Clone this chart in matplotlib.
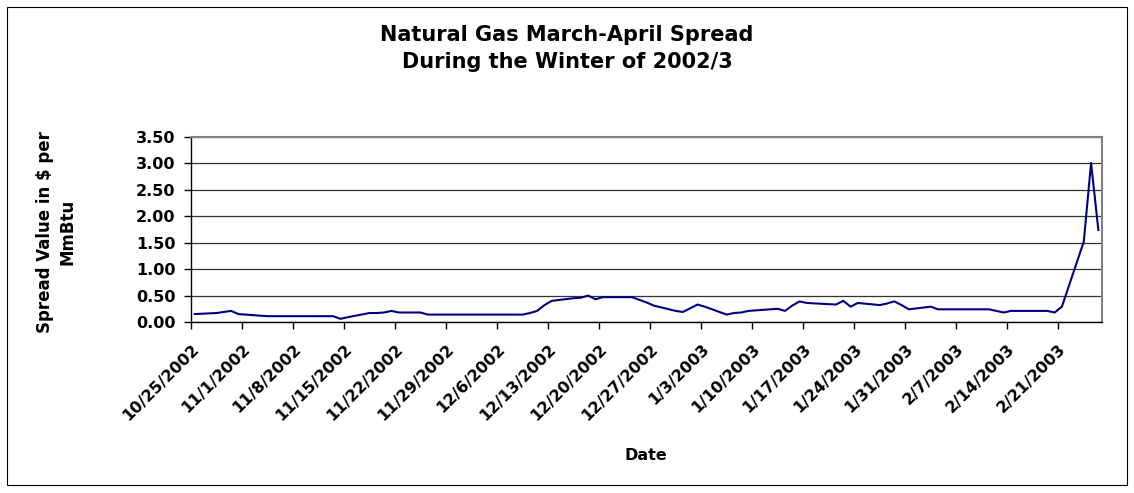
import pandas as pd
import matplotlib
matplotlib.use("Agg")
import matplotlib.pyplot as plt
from matplotlib.patches import Rectangle

# trading days and the March-April spread ($/MmBtu)
dates = ["2002-10-25", "2002-10-28", "2002-10-29", "2002-10-30", "2002-10-31", "2002-11-01",
         "2002-11-04", "2002-11-05", "2002-11-06", "2002-11-07", "2002-11-08",
         "2002-11-11", "2002-11-12", "2002-11-13", "2002-11-14", "2002-11-15",
         "2002-11-18", "2002-11-19", "2002-11-20", "2002-11-21", "2002-11-22",
         "2002-11-25", "2002-11-26", "2002-11-27", "2002-11-29",
         "2002-12-02", "2002-12-03", "2002-12-04", "2002-12-05", "2002-12-06",
         "2002-12-09", "2002-12-10", "2002-12-11", "2002-12-12", "2002-12-13",
         "2002-12-16", "2002-12-17", "2002-12-18", "2002-12-19", "2002-12-20",
         "2002-12-23", "2002-12-24", "2002-12-26", "2002-12-27",
         "2002-12-30", "2002-12-31", "2003-01-02", "2003-01-03",
         "2003-01-06", "2003-01-07", "2003-01-08", "2003-01-09", "2003-01-10",
         "2003-01-13", "2003-01-14", "2003-01-15", "2003-01-16", "2003-01-17",
         "2003-01-21", "2003-01-22", "2003-01-23", "2003-01-24",
         "2003-01-27", "2003-01-28", "2003-01-29", "2003-01-30", "2003-01-31",
         "2003-02-03", "2003-02-04", "2003-02-05", "2003-02-06", "2003-02-07",
         "2003-02-10", "2003-02-11", "2003-02-12", "2003-02-13", "2003-02-14",
         "2003-02-18", "2003-02-19", "2003-02-20", "2003-02-21",
         "2003-02-24", "2003-02-25", "2003-02-26"]
spread = [0.15, 0.17, 0.19, 0.21, 0.15, 0.14,
          0.11, 0.11, 0.11, 0.11, 0.11,
          0.11, 0.11, 0.11, 0.06, 0.09,
          0.17, 0.17, 0.18, 0.21, 0.18,
          0.18, 0.14, 0.14, 0.14,
          0.14, 0.14, 0.14, 0.14, 0.14,
          0.14, 0.17, 0.21, 0.32, 0.40,
          0.45, 0.46, 0.50, 0.43, 0.47,
          0.47, 0.47, 0.37, 0.31,
          0.21, 0.19, 0.33, 0.29,
          0.14, 0.17, 0.18, 0.21, 0.22,
          0.25, 0.21, 0.31, 0.39, 0.36,
          0.33, 0.40, 0.29, 0.36,
          0.32, 0.35, 0.39, 0.32, 0.24,
          0.29, 0.24, 0.24, 0.24, 0.24,
          0.24, 0.24, 0.21, 0.18, 0.21,
          0.21, 0.21, 0.18, 0.29,
          1.52, 3.01, 1.74]
tick_dates = ["2002-10-25", "2002-11-01", "2002-11-08", "2002-11-15", "2002-11-22",
              "2002-11-29", "2002-12-06", "2002-12-13", "2002-12-20", "2002-12-27",
              "2003-01-03", "2003-01-10", "2003-01-17", "2003-01-24", "2003-01-31",
              "2003-02-07", "2003-02-14", "2003-02-21"]
y_ticks = [0.0, 0.5, 1.0, 1.5, 2.0, 2.5, 3.0, 3.5]

W, H = 1134, 493
fig = plt.figure(figsize=(W / 100, H / 100), dpi=100)
fig.patch.set_facecolor("white")

# outer chart frame
fig.patches.append(Rectangle((7 / W, 8 / H), 1120 / W, 478 / H, transform=fig.transFigure,
                             fill=False, edgecolor="black", linewidth=0.8))

ax = fig.add_axes([191 / W, (H - 322) / H, (1102 - 191) / W, (322 - 137) / H])

# points sit in the middle of their day, like Excel's date axis
x = pd.to_datetime(dates) + pd.Timedelta(hours=12)
ax.plot(x, spread, color="#000080", linewidth=1.5)

ticks = pd.to_datetime(tick_dates)
ax.set_xlim(ticks[0], pd.Timestamp("2003-02-27"))
ax.set_xticks(ticks)
ax.set_xticklabels([f"{d.month}/{d.day}/{d.year}" for d in ticks],
                   rotation=45, ha="right", va="top", rotation_mode="anchor",
                   fontsize=11.5, fontweight="bold")
ax.set_ylim(0, 3.5)
ax.set_yticks(y_ticks)
ax.set_yticklabels([f"{v:.2f}" for v in y_ticks], fontsize=11.5, fontweight="bold")

ax.grid(axis="y", color="#333333", linewidth=0.9)
ax.set_axisbelow(True)
ax.tick_params(axis="both", direction="out", length=5, width=1, color="black")
ax.tick_params(axis="y", pad=6)
ax.tick_params(axis="x", pad=9)
for side in ["left", "bottom"]:
    ax.spines[side].set_color("black")
    ax.spines[side].set_linewidth(1.0)
for side in ["top", "right"]:
    ax.spines[side].set_color("#808080")
    ax.spines[side].set_linewidth(1.5)

fig.text(0.5, 1 - 35 / H, "Natural Gas March-April Spread", ha="center", va="center",
         fontsize=15, fontweight="bold")
fig.text(0.5, 1 - 62 / H, "During the Winter of 2002/3", ha="center", va="center",
         fontsize=15, fontweight="bold")
fig.text(646 / W, 1 - 455 / H, "Date", ha="center", va="center",
         fontsize=11.5, fontweight="bold")
fig.text(56 / W, 1 - 232 / H, "Spread Value in $ per\nMmBtu", ha="center", va="center",
         rotation=90, fontsize=12, fontweight="bold", linespacing=1.3)

fig.savefig("out.png", dpi=100)
